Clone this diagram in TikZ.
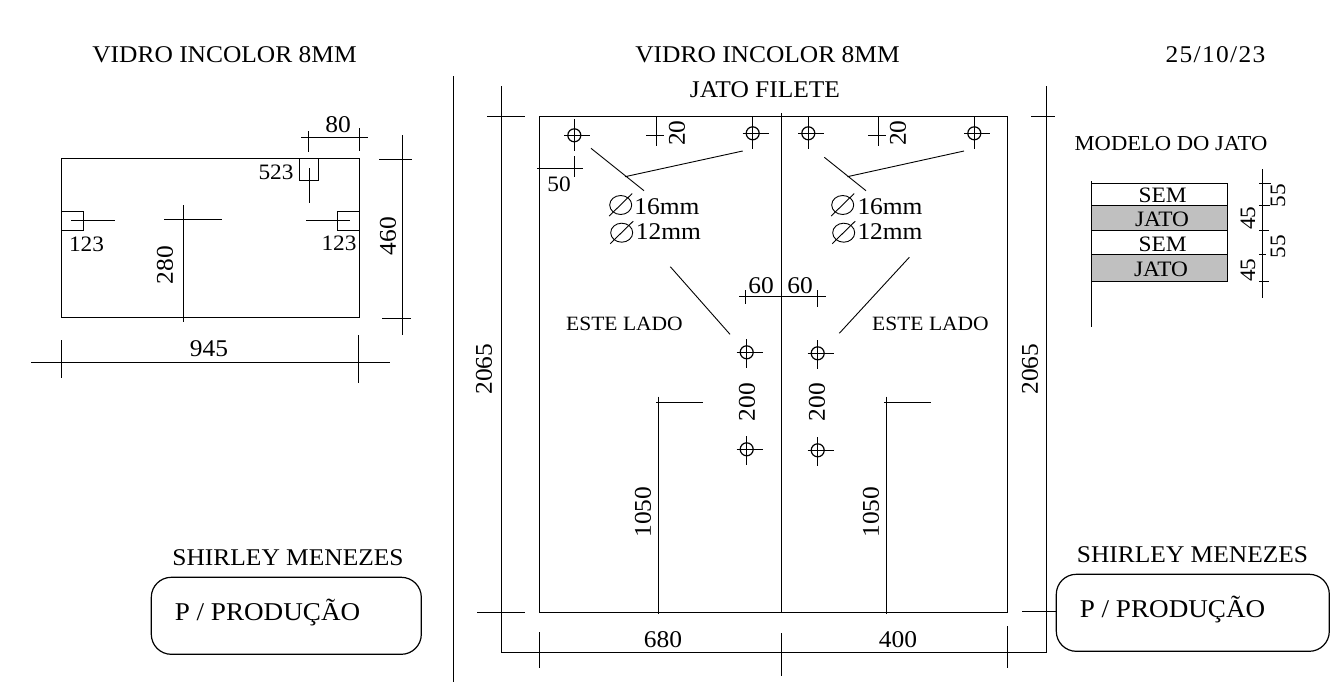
\documentclass[tikz,border=0pt]{standalone}
\usepackage{fontspec}
\setmainfont[FakeStretch=1.06]{Liberation Serif}
\newcommand{\fsA}{\fontsize{24}{26}\selectfont}
\newcommand{\fsB}{\fontsize{22}{24}\selectfont}
\newcommand{\fsC}{\fontsize{21.3}{23}\selectfont}
\newcommand{\fsD}{\fontsize{20.3}{22}\selectfont}
\newcommand{\fsE}{\fontsize{25.6}{27}\selectfont}
\definecolor{jatogray}{HTML}{C0C0C0}
\tikzset{
  ln/.style={draw=black,line width=1.2pt},
  thin ln/.style={draw=black,line width=0.9pt},
  lbl/.style={inner sep=0pt,outer sep=0pt,text=black,font=\fsA},
  lblm/.style={inner sep=0pt,outer sep=0pt,text=black,font=\fsB},
  lbls/.style={inner sep=0pt,outer sep=0pt,text=black,font=\fsC},
  lblt/.style={inner sep=0pt,outer sep=0pt,text=black,font=\fsD},
  lblw/.style={inner sep=0pt,outer sep=0pt,text=black,font=\fsE},
  vert/.style={rotate=90},
  bandwhite/.style={ln,fill=white},
  bandgray/.style={ln,fill=jatogray},
  pbox/.style={ln,rounded corners=20pt}
}
\newcommand{\hole}[3]{%
  \draw[ln] (#1-10,#2) -- (#1+16,#2) (#1,#2-#3) -- (#1,#2+16);
  \draw[ln] (#1,#2) circle[radius=6.5];
}
\newcommand{\dia}[2]{%
  \draw[thin ln] (#1,#2) ellipse[x radius=11,y radius=9.5];
  \draw[thin ln] (#1-11.5,#2+11) -- (#1+11.5,#2-11.5);
}
\begin{document}
\begin{tikzpicture}[x=1pt,y=-1pt]
\useasboundingbox[fill=white] (0,0) rectangle (1342,696);
% titles
\node[lbl] (t1) at (224.5,54.5) {VIDRO INCOLOR 8MM};
\node[lbl] (t2) at (767.5,54.5) {VIDRO INCOLOR 8MM};
\node[lbl] (t3) at (765,89.5) {JATO FILETE};
\node[lbl] (date) at (1215.5,54.5) {\addfontfeature{LetterSpace=5.5}25/10/23};
\node[lbls] (mod) at (1171,144) {MODELO DO JATO};
% divider
\draw[ln] (453.3,76) -- (453.3,682);
% left glass
\draw[ln] (61.3,158.3) rectangle (359.3,317.3);
\draw[ln] (299.3,158.3) rectangle (318.3,180.3);
\draw[ln] (61.3,211.3) rectangle (83.3,230.3);
\draw[ln] (337.3,211.3) rectangle (359.3,230.3);
\draw[ln] (309.3,168.3) -- (309.3,202.7);
\draw[ln] (71,220.3) -- (115,220.3);
\draw[ln] (306,220.3) -- (349.7,220.3);
\draw[ln] (164,219.3) -- (221.7,219.3) (183.3,205.3) -- (183.3,321.7);
\draw[ln] (301,137.3) -- (367.7,137.3) (308.3,131) -- (308.3,151.7) (359.3,128.3) -- (359.3,150.7);
\draw[ln] (402.3,135) -- (402.3,334.7) (379,159.3) -- (412,159.3) (382,318.3) -- (410.7,318.3);
\draw[ln] (31,362.3) -- (390,362.3) (61.3,340) -- (61.3,378.3) (358.3,335) -- (358.3,383.3);
\node[lbl] (d80) at (338,125) {80};
\node[lblm] (d523) at (276,172) {523};
\node[lblm] (d123a) at (86.5,244) {123};
\node[lblm] (d123b) at (339,243) {123};
\node[lbl,vert] (d280) at (165,265) {280};
\node[lbl,vert] (d460) at (388,236) {460};
\node[lbl] (d945) at (209,349) {945};
% main glass
\draw[ln] (539.7,116.3) rectangle (1007.7,612.3);
\draw[ln] (781.3,113) -- (781.3,612.3);
\draw[ln] (501.4,86) -- (501.4,652.3) -- (1046.6,652.3) -- (1046.6,86);
\draw[ln] (487,116.3) -- (525,116.3) (477,612.3) -- (525,612.3);
\draw[ln] (1031,116.3) -- (1055,116.3) (1022,611.3) -- (1056,611.3);
\draw[ln] (539.5,632) -- (539.5,668) (781.3,633) -- (781.3,676) (1007.3,626) -- (1007.3,668);
\draw[ln] (656,402.3) -- (702.7,402.3) (658.3,396.7) -- (658.3,614);
\draw[ln] (884.3,402.3) -- (930.7,402.3) (886.3,396.7) -- (886.3,614);
% holes
\hole{574.3}{135.3}{16}
\hole{752.7}{133.3}{16}
\hole{808.3}{133.3}{16}
\hole{974.3}{133.3}{16}
\hole{746.7}{352.3}{13}
\hole{746.7}{449.3}{13}
\hole{817.7}{353.3}{13}
\hole{817.7}{450.3}{13}
% small dims
\draw[ln] (574.3,156) -- (574.3,177.3) (537,168.3) -- (582.7,168.3);
\draw[ln] (656.3,116.3) -- (656.3,145.7) (646.3,135.3) -- (664,135.3);
\draw[ln] (878.3,116.3) -- (878.3,146) (868.3,135.3) -- (885.7,135.3);
\draw[ln] (739,296.3) -- (825.7,296.3) (745.3,290) -- (745.3,304.3) (817.3,290) -- (817.3,306.7);
% leaders
\draw[thin ln] (591,148.3) -- (644,190.7) (625,176.7) -- (742.7,151);
\draw[thin ln] (824.3,157.3) -- (866,190.7) (847.3,176.7) -- (964,151);
\draw[thin ln] (670.3,266.7) -- (730,334.3) (909.3,257.3) -- (839.3,333.3);
\dia{620.7}{205}
\dia{621.7}{232.7}
\dia{842.7}{205}
\dia{843.7}{232.7}
\node[lbl] (a16) at (667,206.5) {16mm};
\node[lbl] (a12) at (668.5,231.5) {12mm};
\node[lbl] (b16) at (890,206.5) {16mm};
\node[lbl] (b12) at (890,231.5) {12mm};
\node[lblm] (d50) at (559,184) {50};
\node[lbl,vert] (d20a) at (677,133) {20};
\node[lbl,vert] (d20b) at (898,133) {20};
\node[lbl] (d60a) at (761,286) {60};
\node[lbl] (d60b) at (800,286) {60};
\node[lblt] (este1) at (624.5,323.5) {ESTE LADO};
\node[lblt] (este2) at (930.5,323.5) {ESTE LADO};
\node[lbl,vert] (d200a) at (747,402) {200};
\node[lbl,vert] (d200b) at (817,402) {200};
\node[lbl,vert] (d1050a) at (643,512) {1050};
\node[lbl,vert] (d1050b) at (871,512) {1050};
\node[lbl,vert] (d2065a) at (484,369) {2065};
\node[lbl,vert] (d2065b) at (1030,369) {2065};
\node[lbl] (d680) at (663,640) {680};
\node[lbl] (d400) at (898,640) {400};
% jet model
\draw[bandwhite] (1091.3,183.3) rectangle (1227.7,205.3);
\draw[bandgray] (1091.3,205.3) rectangle (1227.7,230.3);
\draw[bandwhite] (1091.3,230.3) rectangle (1227.7,254.3);
\draw[bandgray] (1091.3,254.3) rectangle (1227.7,281.3);
\draw[ln] (1091.3,181) -- (1091.3,326.7);
\draw[ln] (1262.3,169.3) -- (1262.3,298.3);
\draw[ln] (1259.3,183.3) -- (1270.7,183.3) (1259.3,205.3) -- (1270,205.3) (1259.3,230.3) -- (1269,230.3) (1259.3,254.7) -- (1266,254.7) (1259.3,281.3) -- (1269,281.3);
\node[lblm] (sem1) at (1162.7,195) {SEM};
\node[lblm] (jato1) at (1162,219) {JATO};
\node[lblm] (sem2) at (1162.7,244) {SEM};
\node[lblm] (jato2) at (1161,269) {JATO};
\node[lblm,vert] (d45a) at (1248,218) {45};
\node[lblm,vert] (d45b) at (1248,270) {45};
\node[lblm,vert] (d55a) at (1278,195.7) {55};
\node[lblm,vert] (d55b) at (1278,246.7) {55};
% boxes
\draw[pbox] (151.3,577.3) rectangle (421.3,654.3);
\draw[pbox] (1056.3,574.3) rectangle (1329.3,651.3);
\node[lbl] (s1) at (288,557.5) {SHIRLEY MENEZES};
\node[lbl] (s2) at (1192.5,554.5) {SHIRLEY MENEZES};
\node[lblw] (p1) at (267.5,613) {P / PRODUÇÃO};
\node[lblw] (p2) at (1172.5,610) {P / PRODUÇÃO};
\end{tikzpicture}
\end{document}
